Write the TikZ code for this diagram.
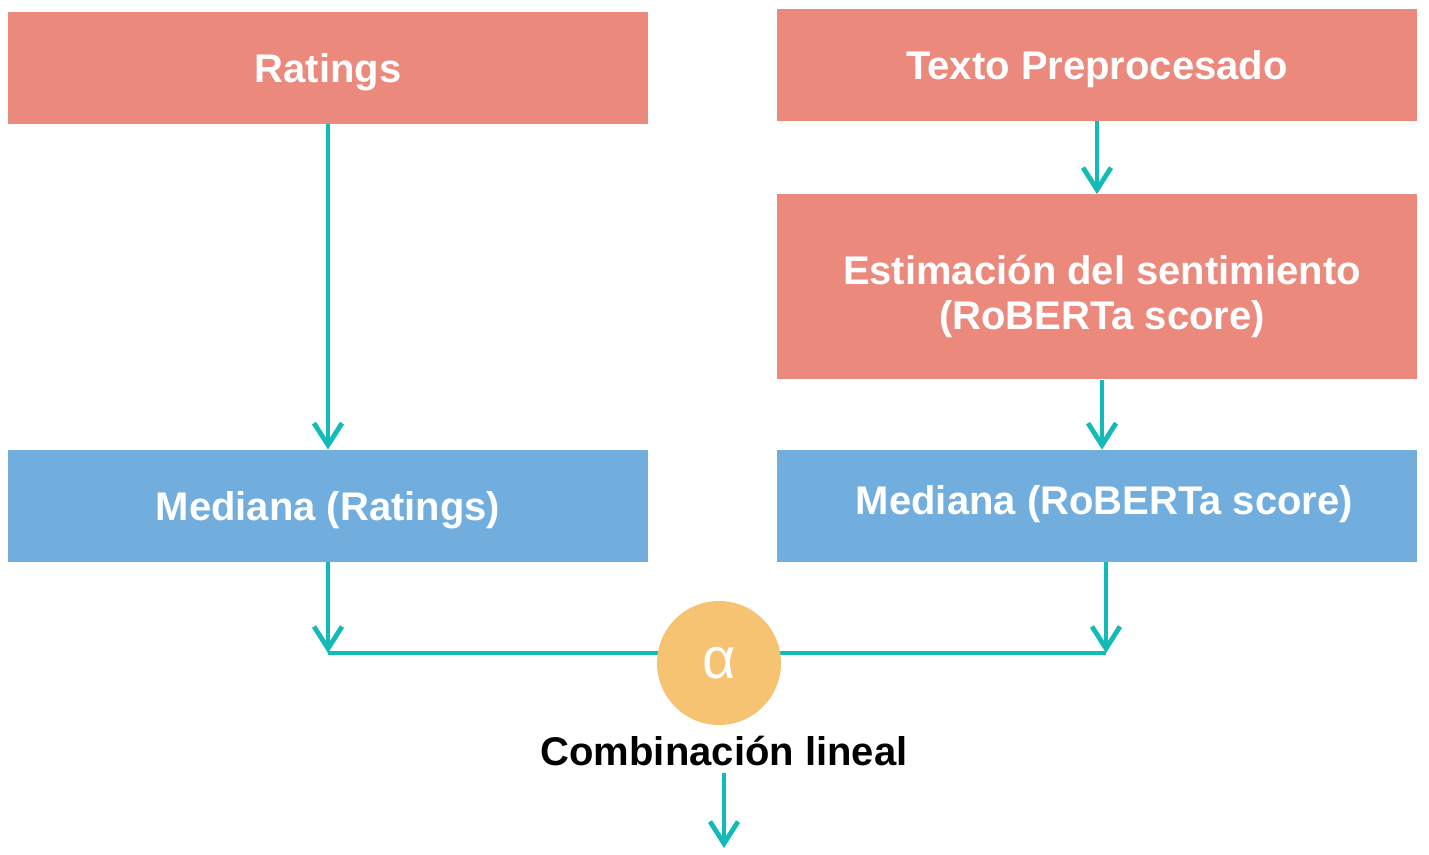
\documentclass[tikz,border=0pt]{standalone}
\usepackage{fontspec}
\setmainfont{Liberation Sans}
\usetikzlibrary{arrows.meta, calc}
\usepackage{xcolor}
\definecolor{boxred}{HTML}{EB897D}
\definecolor{boxblue}{HTML}{71AEDD}
\definecolor{alphaorange}{HTML}{F5C371}
\definecolor{lineteal}{HTML}{13BBB8}

\begin{document}
\begin{tikzpicture}[x=0.5pt, y=-0.5pt,
	box/.style={minimum width=320pt, minimum height=56pt, inner sep=0pt, text depth=0pt, text=white, align=center, font=\fontsize{20}{22.5}\selectfont\bfseries},
	link/.style={draw=lineteal, line width=2.4pt},
	flow/.style={link, -{Straight Barb[length=11pt, width=14pt]}}]
	\useasboundingbox (0,0) rectangle (1429,855);
	\node [box, fill=boxred] (ratings) at (328,68) {Ratings};
	\node [box, fill=boxred] (texto) at (1097,65) {Texto Preprocesado};
	\node [box, fill=boxred, minimum height=92.5pt, text height=43pt] (sent) at (1097,287) {\hspace*{5pt}Estimación del sentimiento\\\hspace*{5pt}(RoBERTa score)};
	\node [box, fill=boxblue] (medrat) at (328,506) {Mediana (Ratings)};
	\node [box, fill=boxblue, text depth=6pt] (medsco) at (1097,506) {\hspace*{7.5pt}Mediana (RoBERTa score)};
	\draw [flow] (ratings) -- (medrat);
	\draw [flow] (texto) -- (sent);
	\draw [flow] ($(sent.south)+(5,0)$) -- ($(medsco.north)+(5,0)$);
	\coordinate (jl) at (328,653);
	\coordinate (jr) at (1106,653);
	\draw [flow] (medrat) -- (jl);
	\draw [flow] ($(medsco.south)+(9,0)$) -- (jr);
	\draw [link] (jl) -- (jr);
	\node [circle, fill=alphaorange, minimum size=62pt, inner sep=0pt, text=white, font=\fontsize{29}{30}\selectfont] (alpha) at (719,663) {α};
	\node [font=\fontsize{20}{22.5}\selectfont\bfseries] (comb) at (724,751) {Combinación lineal};
	\coordinate (out) at (724,848);
	\draw [flow] (comb.south) -- (out);
\end{tikzpicture}
\end{document}
